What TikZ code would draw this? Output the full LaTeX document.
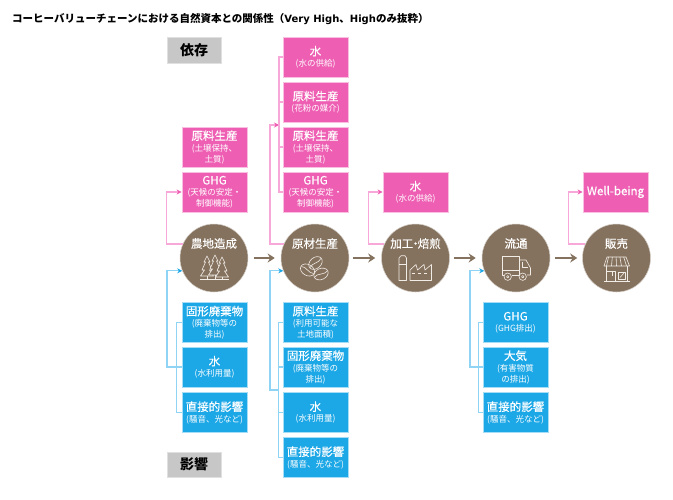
\documentclass[tikz,border=0pt]{standalone}
\usepackage{fontspec}
\setmainfont{Noto Sans CJK JP}
\newfontfamily\heavyfont[FakeBold=0.3]{Noto Sans CJK JP}
\newfontfamily\latbold{DejaVu Sans}
\usetikzlibrary{arrows.meta,calc}
\definecolor{pinkfill}{HTML}{EE5FB4}
\definecolor{pinkedge}{HTML}{F9BFE0}
\definecolor{pinkline}{HTML}{F7A8D8}
\definecolor{bluefill}{HTML}{1CA7E6}
\definecolor{blueedge}{HTML}{A5DCF6}
\definecolor{blueline}{HTML}{8FD4F4}
\definecolor{brownfill}{HTML}{85725E}
\definecolor{iconline}{HTML}{F1ECE6}
\newcommand{\hd}[1]{{\heavyfont\fontsize{11.5}{14}\selectfont #1}}
\tikzset{
 box/.style={minimum width=65pt, minimum height=40pt, inner sep=0pt, align=center, text=white, line width=0.8pt, font=\fontsize{8.5}{11}\selectfont},
 pinkbox/.style={box, fill=pinkfill, draw=pinkedge},
 bluebox/.style={box, fill=bluefill, draw=blueedge},
 graybox/.style={minimum width=54pt, minimum height=25.5pt, inner sep=0pt, fill=black!22, draw=black!12, font=\fontsize{14}{16}\selectfont\bfseries},
 stage/.style={circle, minimum size=68pt, inner sep=0pt, fill=brownfill, draw=brownfill!35, line width=0.5pt},
 stagetext/.style={text=white, inner sep=0pt, font=\heavyfont\fontsize{11.5}{13}\selectfont},
 flow/.style={draw=brownfill, line width=2pt, -{Stealth[length=7pt,width=9pt]}},
 pinkwire/.style={draw=pinkline, line width=1.2pt},
 bluewire/.style={draw=blueline, line width=1.2pt},
 pinktip/.style={-{Stealth[length=5pt,width=5pt,color=pinkfill]}},
 bluetip/.style={-{Stealth[length=5pt,width=5pt,color=bluefill]}},
 icon/.style={draw=iconline, line width=0.6pt, line join=round}
}
\begin{document}
\begin{tikzpicture}[x=1pt, y=-1pt]

\fill[white] (0,0) rectangle (673,499);
\useasboundingbox (0,0) rectangle (673,499);

\node[anchor=west, inner sep=0pt, font=\fontsize{10.5}{12}\selectfont\bfseries] (title) at (12,19)
 {コーヒーバリューチェーンにおける自然資本との関係性（{\latbold\fontsize{10}{12}\selectfont Very High}、{\latbold\fontsize{10}{12}\selectfont High}のみ抜粋）};

\node[graybox] (izon) at (194,50) {依存};
\node[graybox] (eikyo) at (194,464.5) {影響};

% stages
\node[stage] (nochi) at (214,258) {};
\node[stage] (genryo) at (315,258) {};
\node[stage] (kako) at (415.5,258) {};
\node[stage] (ryutsu) at (516,258) {};
\node[stage] (hanbai) at (616.5,258) {};
\node[stagetext] (nochit) at (214,243.5) {農地造成};
\node[stagetext] (genryot) at (315,243.5) {原材生産};
\node[stagetext] (kakot) at (415.5,243.5) {加工\kern-3.5pt・\kern-3.5pt焙煎};
\node[stagetext] (ryutsut) at (516,243.5) {流通};
\node[stagetext] (hanbait) at (616.5,243.5) {販売};

\draw[flow] ($(nochi.east)+(6,0)$) -- ($(genryo.west)+(-6,0)$);
\draw[flow] ($(genryo.east)+(4,0)$) -- ($(kako.west)+(-6,0)$);
\draw[flow] ($(kako.east)+(4,0)$) -- ($(ryutsu.west)+(-6,0)$);
\draw[flow] ($(ryutsu.east)+(5,0)$) -- ($(hanbai.west)+(-5,0)$);

% pink boxes
\node[pinkbox] (p1a) at (214.5,147) {\hd{原料生産}\\(土壌保持、\\土質)};
\node[pinkbox] (p1b) at (214.5,192) {\hd{GHG}\\(天候の安定・\\制御機能)};
\node[pinkbox] (p2a) at (315.5,57) {\hd{水}\\(水の供給)};
\node[pinkbox] (p2b) at (315.5,102) {\hd{原料生産}\\(花粉の媒介)};
\node[pinkbox] (p2c) at (315.5,147) {\hd{原料生産}\\(土壌保持、\\土質)};
\node[pinkbox] (p2d) at (315.5,192) {\hd{GHG}\\(天候の安定・\\制御機能)};
\node[pinkbox] (p3a) at (415.5,192) {\hd{水}\\(水の供給)};
\node[pinkbox] (p5a) at (615.5,192) {\hd{Well-being}};

% blue boxes
\node[bluebox] (b1a) at (214.5,322.5) {\hd{固形廃棄物}\\(廃棄物等の\\排出)};
\node[bluebox] (b1b) at (214.5,367) {\hd{水}\\(水利用量)};
\node[bluebox] (b1c) at (214.5,412.5) {\hd{直接的影響}\\(騒音、光など)};
\node[bluebox] (b2a) at (315.5,322.5) {\hd{原料生産}\\(利用可能な\\土地面積)};
\node[bluebox] (b2b) at (315.5,367) {\hd{固形廃棄物}\\(廃棄物等の\\排出)};
\node[bluebox] (b2c) at (315.5,412.5) {\hd{水}\\(水利用量)};
\node[bluebox] (b2d) at (315.5,457.5) {\hd{直接的影響}\\(騒音、光など)};
\node[bluebox] (b4a) at (515.5,322.5) {\hd{GHG}\\(GHG排出)};
\node[bluebox] (b4b) at (515.5,367) {\hd{大気}\\(有害物質\\の排出)};
\node[bluebox] (b4c) at (515.5,412.5) {\hd{直接的影響}\\(騒音、光など)};

% pink wires
\coordinate (pbus2) at (270,125);
\coordinate (pjoin2) at (279,125);
\draw[pinkwire, pinktip] (nochi.156) -- ++(-16,0) |- (p1b.west);
\draw[pinkwire, pinktip] (genryo.156) -| (pbus2) -- (pjoin2);
\draw[pinkwire] (p2a.west) -| (pjoin2) |- (p2d.west);
\draw[pinkwire] (p2b.west) -- ++(-4,0);
\draw[pinkwire] (p2c.west) -- ++(-4,0);
\draw[pinkwire, pinktip] (kako.156) -- ++(-16,0) |- (p3a.west);
\draw[pinkwire, pinktip] (hanbai.156) -- ++(-16.5,0) |- (p5a.west);

% blue wires
\coordinate (bbus1) at (167,300);
\coordinate (bbus2) at (270,300);
\coordinate (bbus4) at (470,300);
\coordinate (bjoin2) at (279,390);
\draw[bluewire, bluetip] (b1b.west) -| (bbus1) |- (nochi.202);
\draw[bluewire] (b1a.west) -- ++(-5,0) |- (b1c.west);
\draw[bluewire, bluetip] (bjoin2) -| (bbus2) |- (genryo.202);
\draw[bluewire] (b2a.west) -- ++(-4,0) |- (b2d.west);
\draw[bluewire] (b2b.west) -- ++(-4,0);
\draw[bluewire] (b2c.west) -- ++(-4,0);
\draw[bluewire, bluetip] (b4b.west) -| (bbus4) |- (ryutsu.202);
\draw[bluewire] (b4a.west) -- ++(-4,0) |- (b4c.west);

% trees
\foreach \tx/\ty in {207/256, 215/255, 222/257} {
 \draw[icon, fill=brownfill] (\tx,\ty) -- (\tx+3,\ty+6) -- (\tx+1.5,\ty+6) -- (\tx+5,\ty+14) -- (\tx+2.5,\ty+14) -- (\tx+6.5,\ty+20) -- (\tx-6.5,\ty+20) -- (\tx-2.5,\ty+14) -- (\tx-5,\ty+14) -- (\tx-1.5,\ty+6) -- (\tx-3,\ty+6) -- cycle;
 \draw[icon] (\tx,\ty+20) -- (\tx,279);
}
\draw[icon] (200,279.5) -- (229,279.5);

% beans
\foreach \bx/\by/\ba in {315.5/263/40, 307.5/270/-30, 321/274/25} {
 \draw[icon, rotate around={\ba:(\bx,\by)}] (\bx,\by) ellipse (7.5 and 5.5);
 \draw[icon, rotate around={\ba:(\bx,\by)}] (\bx-7,\by) .. controls (\bx-3,\by-2.5) and (\bx+3,\by+2.5) .. (\bx+7,\by);
}

% factory
\draw[icon] (399,280.5) -- (399,258) -- (401,255.7) -- (405,255.7) -- (406.5,258) -- (406.5,280.5) -- cycle;
\draw[icon] (399,264) -- (406.5,264);
\draw[icon] (410,280.5) -- (410,270) -- (416,264.5) -- (417.5,270) -- (424,264.5) -- (425,270) -- (431.5,264.5) -- (431.5,280.5) -- cycle;
\draw[icon, dash pattern=on 3pt off 3pt] (412,273) -- (430,273);

% truck
\draw[icon] (504,275) -- (502,275) -- (502,256) -- (519,256) -- (519,275) -- (512,275);
\draw[icon] (502,270) -- (519,270);
\draw[icon] (519,260) -- (526,260) -- (530.5,268) -- (530.5,275) -- (527,275);
\draw[icon] (522,261.5) -- (522,267) -- (528,267);
\draw[icon] (507.7,276.7) circle (3.7);
\draw[icon] (507.7,276.7) circle (1.2);
\draw[icon] (522.7,276.7) circle (3.7);
\draw[icon] (522.7,276.7) circle (1.2);

% shop
\draw[icon] (607,257) -- (626,257) -- (629.5,266) -- (604,266) -- cycle;
\foreach \sx in {0,1,2,3,4} {
 \draw[icon] (608.5+3.8*\sx,257) -- (606.5+5*\sx,266);
}
\draw[icon] (606,266) -- (606,281.5);
\draw[icon] (627.5,266) -- (627.5,281.5);
\draw[icon] (604,281.5) -- (630,281.5);
\draw[icon] (606,271) -- (615,271) -- (615,281.5);
\draw[icon] (612,272) -- (612,276);
\draw[icon] (618,272) rectangle (625.5,279);
\draw[icon] (620,277.5) -- (624,273);

\end{tikzpicture}
\end{document}
